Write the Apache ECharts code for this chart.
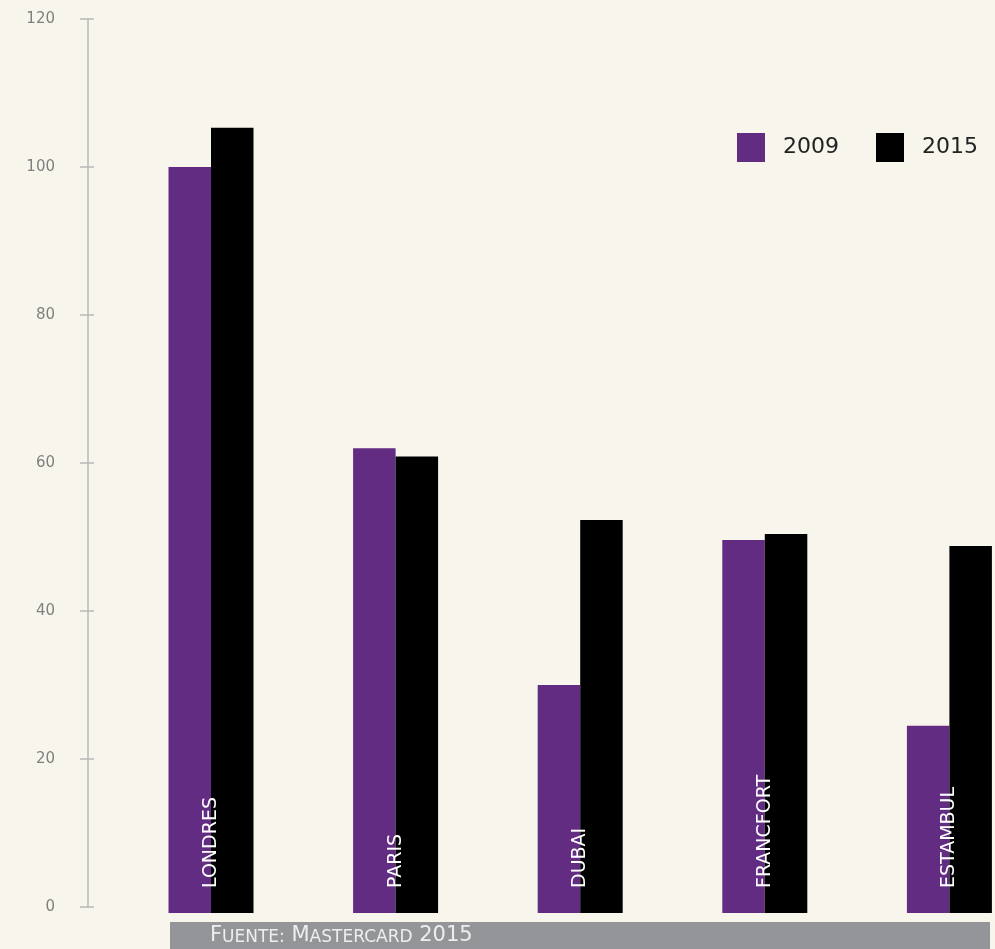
<!DOCTYPE html>
<html>
<head>
<meta charset="utf-8">
<script src="https://cdn.jsdelivr.net/npm/echarts@6/dist/echarts.min.js"></script>
<style>
html,body{margin:0;padding:0;background:#f8f6ec;}
#c{width:995px;height:949px;}
</style>
</head>
<body>
<div id="c"></div>
<script>
const categories = ['LONDRES', 'PARIS', 'DUBAI', 'FRANCFORT', 'ESTAMBUL'];
const values2009 = [100.0, 62.0, 30.0, 49.6, 24.5];
const values2015 = [105.3, 60.9, 52.3, 50.4, 48.8];
const seriesNames = ['2009', '2015'];
const yTicks = { min: 0, max: 120, interval: 20 };
const barBase = -0.8;
const sourceText = '{b|F}{s|UENTE:}  {b|M}{s|ASTERCARD}  {b|2015}';

const chart = echarts.init(document.getElementById('c'));
const FONT = 'DejaVu Sans';
const legendBase = {
  top: 128,
  itemWidth: 28,
  itemHeight: 29,
  icon: 'rect',
  textStyle: { fontSize: 22, color: '#222', fontFamily: FONT, fontWeight: 'normal', padding: [0, 0, 0, 13] }
};
chart.setOption({
  backgroundColor: '#f8f6ec',
  animation: false,
  textStyle: { fontFamily: FONT },
  legend: [
    Object.assign({ data: [seriesNames[0]], left: 732 }, legendBase),
    Object.assign({ data: [seriesNames[1]], left: 871 }, legendBase)
  ],
  grid: [
    { left: 88, width: 860, top: 19, bottom: 42, outerBoundsMode: 'none' },
    { left: 118.7, width: 923, top: 19, bottom: 36, outerBoundsMode: 'none' }
  ],
  xAxis: [
    { type: 'category', gridIndex: 0, data: categories, show: false },
    {
      type: 'category', gridIndex: 1, data: categories,
      axisLine: { show: false }, axisTick: { show: false },
      axisLabel: {
        inside: true, rotate: 90, margin: 25, color: '#ffffff',
        fontSize: 19, fontFamily: FONT, fontWeight: 'normal'
      },
      z: 10
    }
  ],
  yAxis: [
    {
      type: 'value', gridIndex: 0, min: yTicks.min, max: yTicks.max, interval: yTicks.interval,
      axisLine: { show: true, lineStyle: { color: '#b8b8b8', width: 1.5 } },
      axisTick: { show: true, length: 8, lineStyle: { color: '#b8b8b8', width: 1.5 } },
      splitLine: { show: false },
      axisLabel: { margin: 33, color: '#808080', fontSize: 15, fontFamily: FONT, fontWeight: 'normal' }
    },
    {
      type: 'value', gridIndex: 0, min: yTicks.min, max: yTicks.max, interval: yTicks.interval,
      axisLine: { show: false },
      axisTick: { show: true, inside: true, length: 6, lineStyle: { color: '#b8b8b8', width: 1.5 } },
      splitLine: { show: false }, axisLabel: { show: false }, position: 'left'
    },
    {
      type: 'value', gridIndex: 1, min: barBase, max: yTicks.max, startValue: barBase, show: false,
      splitLine: { show: false }
    }
  ],
  series: [
    {
      name: seriesNames[0], type: 'bar', xAxisIndex: 1, yAxisIndex: 2,
      data: values2009, barWidth: 42.5, barGap: '0%',
      itemStyle: { color: '#622c83' }
    },
    {
      name: seriesNames[1], type: 'bar', xAxisIndex: 1, yAxisIndex: 2,
      data: values2015, barWidth: 42.5, barGap: '0%',
      itemStyle: { color: '#000000' }
    }
  ],
  graphic: [
    {
      type: 'rect', left: 170, top: 922, shape: { width: 820, height: 30 },
      style: { fill: '#939598' }, silent: true
    },
    {
      type: 'text', left: 210, top: 925,
      style: {
        text: sourceText,
        fill: '#eeeeee',
        rich: {
          b: { fontSize: 21, fontFamily: FONT, fill: '#eeeeee', verticalAlign: 'bottom' },
          s: { fontSize: 17, fontFamily: FONT, fill: '#eeeeee', verticalAlign: 'bottom' }
        }
      }
    }
  ]
});
</script>
</body>
</html>
